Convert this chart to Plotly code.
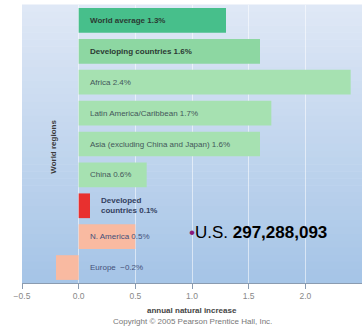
import plotly.graph_objects as go

# ---- data ----
regions = ["World average", "Developing countries", "Africa", "Latin America/Caribbean",
           "Asia (excluding China and Japan)", "China", "Developed countries",
           "N. America", "Europe"]
increase = [1.3, 1.6, 2.4, 1.7, 1.6, 0.6, 0.1, 0.5, -0.2]
labels = ["<b>World average 1.3%</b>", "<b>Developing countries 1.6%</b>", "Africa 2.4%",
          "Latin America/Caribbean 1.7%", "Asia (excluding China and Japan) 1.6%",
          "China 0.6%", "<b>Developed<br>countries 0.1%</b>", "N. America 0.5%",
          "Europe  \u22120.2%"]
bar_colors = ["#47bf8b", "#8dd7a2", "#a6e1b1", "#a6e1b1", "#a6e1b1", "#a6e1b1",
              "#e8302f", "#f9baa1", "#f9baa1"]
label_colors = ["#2b3a33", "#2b3a33", "#44575a", "#44575a", "#44575a", "#44575a",
                "#33405e", "#44507a", "#44507a"]
us_label = "U.S."
us_pop = "297,288,093"
us_x = 0.96
us_row = "N. America"

fig = go.Figure()
fig.add_trace(go.Bar(
    y=regions, x=increase, orientation="h",
    marker=dict(color=bar_colors, line=dict(width=0)),
    width=0.8, hoverinfo="skip", showlegend=False))

# gradient panel background
n = 40
top = (223, 232, 246)
bot = (166, 197, 231)
for i in range(n):
    t = i / (n - 1)
    c = tuple(int(top[k] + (bot[k] - top[k]) * t) for k in range(3))
    fig.add_shape(type="rect", xref="paper", yref="paper",
                  x0=0, x1=1, y0=1 - (i + 1) / n, y1=1 - i / n + 0.002,
                  fillcolor="rgb(%d,%d,%d)" % c, line=dict(width=0), layer="below")

for r, v, lab, lc in zip(regions, increase, labels, label_colors):
    x0 = v if (v > 0 and v < 0.3) else 0
    fig.add_annotation(x=x0, y=r, text=lab, showarrow=False, xanchor="left",
                       xshift=9, font=dict(family="Arial", size=8, color=lc),
                       align="left")

fig.add_annotation(x=us_x, y=us_row, showarrow=False, xanchor="left", yshift=4,
                   text="<span style='color:#8a1a7a'>\u2022</span>%s <b>%s</b>" % (us_label, us_pop),
                   font=dict(family="Arial", size=17, color="black"))

fig.add_annotation(x=0.075, y=0.49, xref="paper", yref="paper", text="<b>World regions</b>",
                   textangle=-90, showarrow=False,
                   font=dict(family="Arial", size=8, color="#3a3a3a"))
fig.add_annotation(x=0.5, y=-0.098, xref="paper", yref="paper", yanchor="middle",
                   text="<b>annual natural increase</b>", showarrow=False,
                   font=dict(family="Arial", size=8, color="#444"))
fig.add_annotation(x=0.5, y=-0.138, xref="paper", yref="paper", yanchor="middle",
                   text="Copyright \u00a9 2005 Pearson Prentice Hall, Inc.", showarrow=False,
                   font=dict(family="Arial", size=8, color="#777"))

fig.update_layout(
    width=362, height=333,
    margin=dict(l=22, r=0, t=5, b=50),
    paper_bgcolor="white", plot_bgcolor="rgba(0,0,0,0)",
    bargap=0.2,
    xaxis=dict(range=[-0.5, 2.5], dtick=0.5, tick0=-0.5, showgrid=True,
               gridcolor="rgba(255,255,255,0.55)", gridwidth=1, zeroline=True,
               zerolinecolor="rgba(255,255,255,0.55)", zerolinewidth=1,
               showline=True, linecolor="#8a9bb0", linewidth=1,
               ticks="outside", ticklen=5, tickcolor="#8a9bb0",
               tickformat=".1f",
               tickfont=dict(family="Arial", size=8.5, color="#888")),
    yaxis=dict(categoryorder="array", categoryarray=regions, autorange="reversed",
               showticklabels=False, showgrid=False, zeroline=False, ticks=""),
)
fig.write_html("out.html")
